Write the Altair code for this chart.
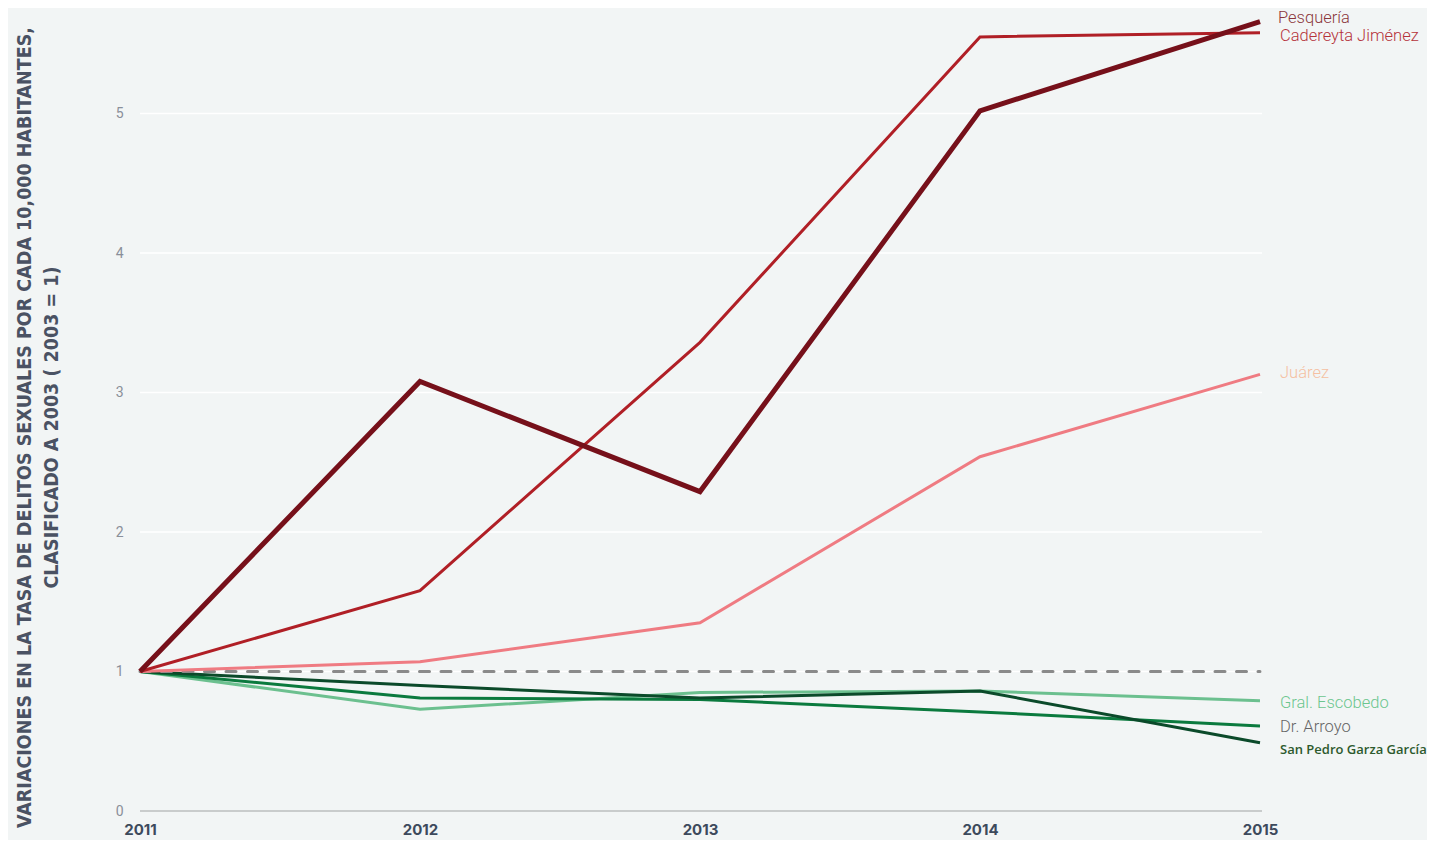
import altair as alt
import pandas as pd

years = [2011, 2012, 2013, 2014, 2015]
series_names = ["Gral. Escobedo", "Dr. Arroyo", "San Pedro Garza García",
                "Juárez", "Cadereyta Jiménez", "Pesquería"]
escobedo = [1.0, 0.73, 0.85, 0.86, 0.79]
arroyo = [1.0, 0.81, 0.80, 0.71, 0.61]
san_pedro = [1.0, 0.90, 0.81, 0.86, 0.49]
juarez = [1.0, 1.07, 1.35, 2.54, 3.13]
cadereyta = [1.0, 1.58, 3.36, 5.55, 5.58]
pesqueria = [1.0, 3.08, 2.29, 5.02, 5.66]
reference = [1, 1, 1, 1, 1]
y_ticks = [0, 1, 2, 3, 4, 5]
y_title = ["VARIACIONES EN LA TASA DE DELITOS SEXUALES POR CADA 10,000 HABITANTES,",
           "CLASIFICADO A 2003 ( 2003 = 1)"]

values = [escobedo, arroyo, san_pedro, juarez, cadereyta, pesqueria]

# styles
line_colors = ["#6cc08f", "#0b7a3e", "#0b4a2a", "#ef7b82", "#b01f26", "#76101a"]
line_widths = [3, 3, 3, 3, 3, 5]
label_colors = ["#6cc68e", "#666666", "#2d5a2d", "#f5c0a2", "#b5333b", "#8b353b"]
label_dy = [2, 1, 7, -1, 3, -4]
label_dx = [20, 20, 20, 20, 20, 18]

BG = "#f2f5f5"
xs = alt.Scale(domain=[2011, 2015])
ys = alt.Scale(domain=[0, 5.75])

base_df = pd.DataFrame({"year": years, "v": reference})

grid = alt.Chart(pd.DataFrame({"t": y_ticks[1:]})).mark_rule(
    color="white", strokeWidth=1.5
).encode(y=alt.Y("t:Q", scale=ys), x=alt.value(0), x2=alt.value(1122))

zero = alt.Chart(pd.DataFrame({"t": [0]})).mark_rule(
    color="#c9cccc", strokeWidth=2
).encode(y=alt.Y("t:Q", scale=ys), x=alt.value(0), x2=alt.value(1122))

axes = alt.Chart(base_df).mark_point(opacity=0).encode(
    x=alt.X("year:Q", scale=xs, axis=alt.Axis(
        values=years, format="d", title=None, grid=False, domain=False, ticks=False,
        labelFont="Inter", labelFontWeight="bold", labelFontSize=15,
        labelColor="#3d4a5c", labelPadding=11, labelFlush=False)),
    y=alt.Y("v:Q", scale=ys, axis=alt.Axis(
        values=y_ticks, format="d", title=y_title, grid=False, domain=False, ticks=False,
        labelFont="Roboto", labelFontSize=14, labelColor="#8a8f99", labelPadding=17,
        titleFont="DejaVu Sans Condensed, Liberation Sans Narrow, Liberation Sans",
        titleFontWeight="bold", titleFontSize=19.5,
        titleColor="#4a5263", titleAngle=-90, titleBaseline="alphabetic",
        titleAlign="center", titleX=-110, titleY=418, titleLineHeight=27)),
)

layers = [grid, zero, axes]

lines = []
for i, (name, vals) in enumerate(zip(series_names, values)):
    df = pd.DataFrame({"year": years, "v": vals})
    lines.append(alt.Chart(df).mark_line(
        color=line_colors[i], strokeWidth=line_widths[i], clip=False
    ).encode(x=alt.X("year:Q", scale=xs), y=alt.Y("v:Q", scale=ys)))

dashed = alt.Chart(base_df).mark_line(
    color="#8a8a8a", strokeWidth=3, strokeDash=[10, 11.5], strokeCap="round"
).encode(x=alt.X("year:Q", scale=xs), y=alt.Y("v:Q", scale=ys))

layers += lines[:3] + [dashed] + lines[3:]

for i, (name, vals) in enumerate(zip(series_names, values)):
    df = pd.DataFrame({"year": [years[-1]], "v": [vals[-1]], "name": [name]})
    if name == "San Pedro Garza García":
        font, weight, size = "Open Sans", 600, 13
    else:
        font, weight, size = "Roboto", 300, 16.5
    layers.append(alt.Chart(df).mark_text(
        align="left", baseline="middle", dx=label_dx[i], dy=label_dy[i],
        font=font, fontWeight=weight, fontSize=size, color=label_colors[i]
    ).encode(x=alt.X("year:Q", scale=xs), y=alt.Y("v:Q", scale=ys), text="name:N"))

chart = alt.layer(*layers).properties(
    width=1120, height=802,
    autosize=alt.AutoSizeParams(type="none"),
    padding={"left": 132, "top": 1, "right": 167, "bottom": 29},
    background=BG,
).configure_view(stroke=None, fill=BG)

chart.save("out.html", embed_options={"renderer": "svg", "actions": False})
